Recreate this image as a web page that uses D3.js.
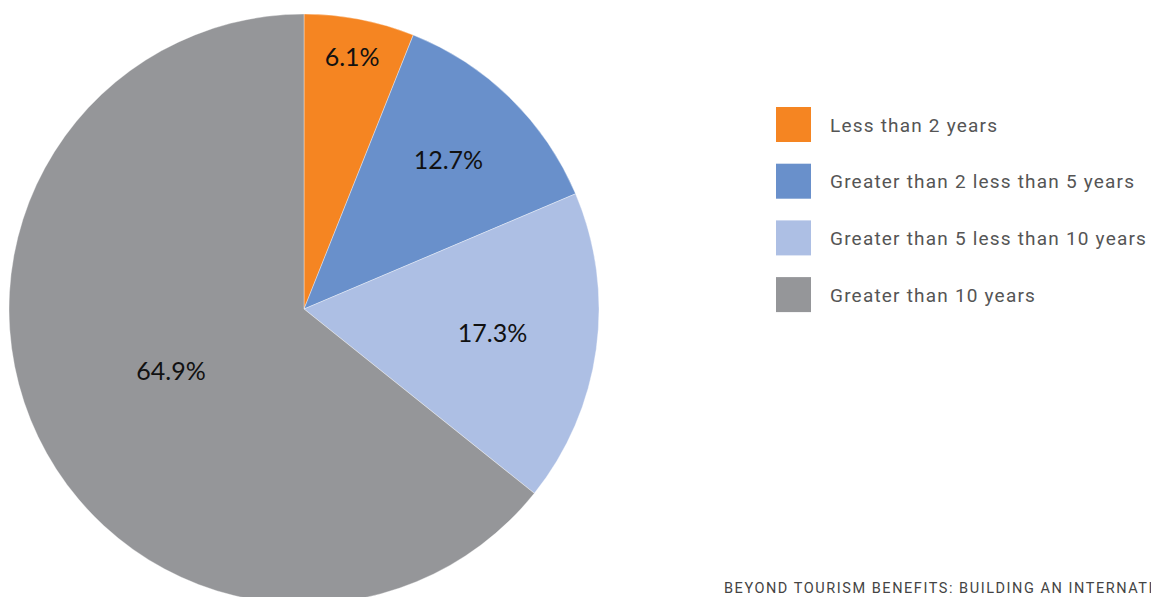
<!DOCTYPE html>
<html>
<head>
<meta charset="utf-8">
<script src="https://cdn.jsdelivr.net/npm/d3@7/dist/d3.min.js"></script>
<style>
  html, body { margin: 0; padding: 0; background: #ffffff; overflow: hidden; }
  svg { display: block; }
</style>
</head>
<body>
<svg id="chart" width="1151" height="597"></svg>
<script>
// Length of time categories and their shares (%)
const categories = [
  "Less than 2 years",
  "Greater than 2 less than 5 years",
  "Greater than 5 less than 10 years",
  "Greater than 10 years"
];
const shares = [6.1, 12.7, 17.3, 64.9];
const colors = ["#F58522", "#6990CB", "#ADBFE4", "#959699"];
const footerText = "BEYOND TOURISM BENEFITS: BUILDING AN INTERNATIONAL PROFILE";

// Layout
const W = 1151, H = 597;
const cx = 304, cy = 309, radius = 295;
// how far out along each slice its label sits (fraction of radius)
const labelFrac = [0.865, 0.70, 0.645, 0.50];

const svg = d3.select("#chart");

const data = categories.map((c, i) => ({ category: c, value: shares[i], color: colors[i], idx: i }));

const pie = d3.pie().value(d => d.value).sort(null);
const arcs = pie(data);
const arc = d3.arc().innerRadius(0).outerRadius(radius);

const g = svg.append("g").attr("transform", `translate(${cx},${cy})`);

g.selectAll("path.slice")
  .data(arcs)
  .join("path")
  .attr("class", "slice")
  .attr("d", arc)
  .attr("fill", d => d.data.color)
  .attr("stroke", "#ffffff")
  .attr("stroke-width", 0.6)
  .attr("stroke-opacity", 0.6);

g.selectAll("text.val")
  .data(arcs)
  .join("text")
  .attr("class", "val")
  .attr("transform", d => {
    const r = radius * labelFrac[d.data.idx];
    const c = d3.arc().innerRadius(r).outerRadius(r).centroid(d);
    return `translate(${c[0]},${c[1]})`;
  })
  .attr("text-anchor", "middle")
  .attr("dy", "0.3em")
  .attr("font-family", "Lato, 'Open Sans', sans-serif")
  .attr("font-size", 25)
  .attr("fill", "#111111")
  .text(d => d3.format(".1f")(d.data.value) + "%");

// Legend
const legendX = 776, legendY = 107, step = 56.7, box = 35;
const legend = svg.append("g").attr("transform", `translate(${legendX},${legendY})`);
const items = legend.selectAll("g.item")
  .data(data)
  .join("g")
  .attr("class", "item")
  .attr("transform", (d, i) => `translate(0,${i * step})`);

items.append("rect")
  .attr("width", box)
  .attr("height", box)
  .attr("fill", d => d.color);

items.append("text")
  .attr("x", 54)
  .attr("y", box / 2)
  .attr("dy", "0.38em")
  .attr("font-family", "Roboto, sans-serif")
  .attr("font-size", 19)
  .attr("letter-spacing", 1.2)
  .attr("fill", "#555555")
  .text(d => d.category);

// Footer running title (runs past the right edge of the page)
svg.append("text")
  .attr("x", 724)
  .attr("y", 593)
  .attr("font-family", "Roboto, sans-serif")
  .attr("font-size", 14.5)
  .attr("letter-spacing", 1.55)
  .attr("fill", "#444444")
  .text(footerText);
</script>
</body>
</html>
